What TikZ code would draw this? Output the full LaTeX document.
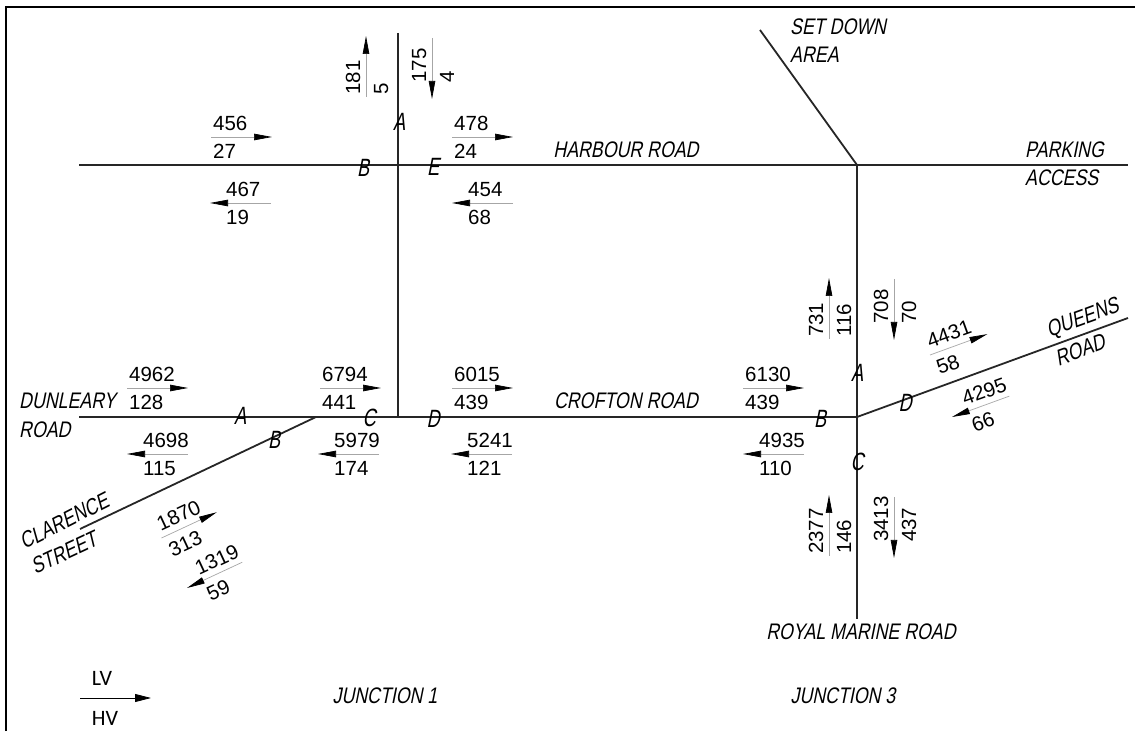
\documentclass[tikz,border=0pt]{standalone}
\usepackage{fontspec}
\setmainfont{Liberation Sans}
\newfontfamily\roadfont[FakeSlant=0.2,FakeStretch=0.79]{Liberation Sans}
\newfontfamily\armfont[FakeSlant=0.2,FakeStretch=0.72]{Liberation Sans}
\newfontfamily\keyfont{Carlito}
\usetikzlibrary{arrows.meta}

% pair of counts on a line: name, left end, angle, upper, lower
\newcommand{\eastflow}[5]{
  \begin{scope}[shift={(#2)},rotate=#3]
    \coordinate (#1s) at (0,0);
    \coordinate (#1e) at (61,0);
    \node[cnt,rotate=#3] (#1u) at (2,6) {#4};
    \node[cnt,rotate=#3] (#1l) at (2,-22) {#5};
    \draw[flow] (#1s) -- (#1e);
  \end{scope}
}
\newcommand{\westflow}[5]{
  \begin{scope}[shift={(#2)},rotate=#3]
    \coordinate (#1s) at (61,0);
    \coordinate (#1e) at (0,0);
    \node[cnt,rotate=#3] (#1u) at (16,6) {#4};
    \node[cnt,rotate=#3] (#1l) at (16,-22) {#5};
    \draw[flow] (#1s) -- (#1e);
  \end{scope}
}

\begin{document}
\begin{tikzpicture}[
  x=1pt, y=1pt,
  cnt/.style={font=\fontsize{20.5}{22}\selectfont, anchor=base west, inner sep=0pt},
  flow/.style={draw=gray!70, line width=0.7pt, -{Triangle[length=18pt,width=6.5pt,black]}},
  road/.style={draw=black!85, line width=1.8pt},
  rlbl/.style={font=\roadfont\fontsize{22.5}{24}\selectfont, inner sep=0pt},
  arm/.style={font=\armfont\fontsize{25}{27}\selectfont, inner sep=0pt},
  key/.style={font=\keyfont\fontsize{22}{24}\selectfont, inner sep=0pt}]
  \useasboundingbox (0,0) rectangle (1135,731);

  % frame
  \coordinate (fa) at (6,0);
  \coordinate (fb) at (6,724);
  \coordinate (fc) at (1135,724);
  \draw[line width=1.6pt] (fa) -- (fb) -- (fc);

  % roads
  \coordinate (hw) at (79,566);
  \coordinate (hr) at (1128,566);
  \coordinate (nt) at (398,698);
  \coordinate (j1) at (398,314);
  \coordinate (cw) at (79,314);
  \coordinate (j3) at (857,314);
  \coordinate (j2) at (857,566);
  \coordinate (cl) at (316,314);
  \coordinate (cs) at (80,202);
  \coordinate (qr) at (1128,413);
  \coordinate (sd) at (760,701);
  \coordinate (rm) at (857,112);
  \draw[road] (hw) -- (hr);
  \draw[road] (nt) -- (j1);
  \draw[road] (cw) -- (j3);
  \draw[road] (j2) -- (rm);
  \draw[road] (cl) -- (cs);
  \draw[road] (j3) -- (qr);
  \draw[road] (sd) -- (j2);

  % road names
  \node[rlbl] (harbour) at (626,581) {HARBOUR ROAD};
  \node[rlbl] (crofton) at (626,330) {CROFTON ROAD};
  \node[rlbl] (royal) at (861,99) {ROYAL MARINE ROAD};
  \node[rlbl,anchor=west] (setdown) at (790,704) {SET DOWN};
  \node[rlbl,anchor=west] (area) at (790,676) {AREA};
  \node[rlbl,anchor=west] (parking) at (1025,581) {PARKING};
  \node[rlbl,anchor=west] (access) at (1025,553) {ACCESS};
  \node[rlbl,anchor=west] (dunleary) at (19,330) {DUNLEARY};
  \node[rlbl,anchor=west] (droad) at (19,301) {ROAD};
  \node[rlbl,rotate=27] (clarence) at (64,210) {CLARENCE};
  \node[rlbl,rotate=25] (street) at (64,178) {STREET};
  \node[rlbl,rotate=20] (queens) at (1083,412) {QUEENS};
  \node[rlbl,rotate=20] (qroad) at (1080,381) {ROAD};
  \node[rlbl] (junca) at (385,35) {JUNCTION 1};
  \node[rlbl] (juncb) at (843,35) {JUNCTION 3};

  % arm letters
  \node[arm] (ha) at (399,609) {A};
  \node[arm] (hb) at (363,563) {B};
  \node[arm] (hc) at (433,564) {E};
  \node[arm] (aa) at (240,315) {A};
  \node[arm] (ab) at (274,291) {B};
  \node[arm] (ac) at (369,313) {C};
  \node[arm] (ad) at (433,312) {D};
  \node[arm] (bb) at (820,312) {B};
  \node[arm] (ba) at (857,358) {A};
  \node[arm] (bd) at (905,328) {D};
  \node[arm] (bc) at (857,269) {C};

  % counts
  \eastflow{na}{211,594}{0}{456}{27}
  \westflow{nb}{210,528}{0}{467}{19}
  \eastflow{nc}{452,594}{0}{478}{24}
  \westflow{nd}{452,528}{0}{454}{68}
  \eastflow{ne}{366,634}{90}{181}{5}
  \westflow{nf}{432,632}{90}{175}{4}
  \eastflow{ma}{127,343}{0}{4962}{128}
  \westflow{mb}{127,277}{0}{4698}{115}
  \eastflow{mc}{320,343}{0}{6794}{441}
  \westflow{md}{318,277}{0}{5979}{174}
  \eastflow{me}{452,343}{0}{6015}{439}
  \westflow{mf}{451,277}{0}{5241}{121}
  \eastflow{mg}{743,343}{0}{6130}{439}
  \westflow{mh}{743,277}{0}{4935}{110}
  \eastflow{sa}{161.5,193}{25}{1870}{313}
  \westflow{sb}{187,143}{25}{1319}{59}
  \eastflow{qa}{930,376}{20}{4431}{58}
  \westflow{qb}{952,314}{20}{4295}{66}
  \eastflow{va}{829,392}{90}{731}{116}
  \westflow{vb}{894,391}{90}{708}{70}
  \eastflow{ra}{829,175}{90}{2377}{146}
  \westflow{rb}{894,173}{90}{3413}{437}

  % key
  \coordinate (ks) at (80,33);
  \coordinate (ke) at (151,33);
  \draw[line width=0.8pt,-{Triangle[length=16pt,width=8pt]}] (ks) -- (ke);
  \node[key] (lv) at (102,53) {LV};
  \node[key] (hv) at (105,13) {HV};
\end{tikzpicture}
\end{document}
